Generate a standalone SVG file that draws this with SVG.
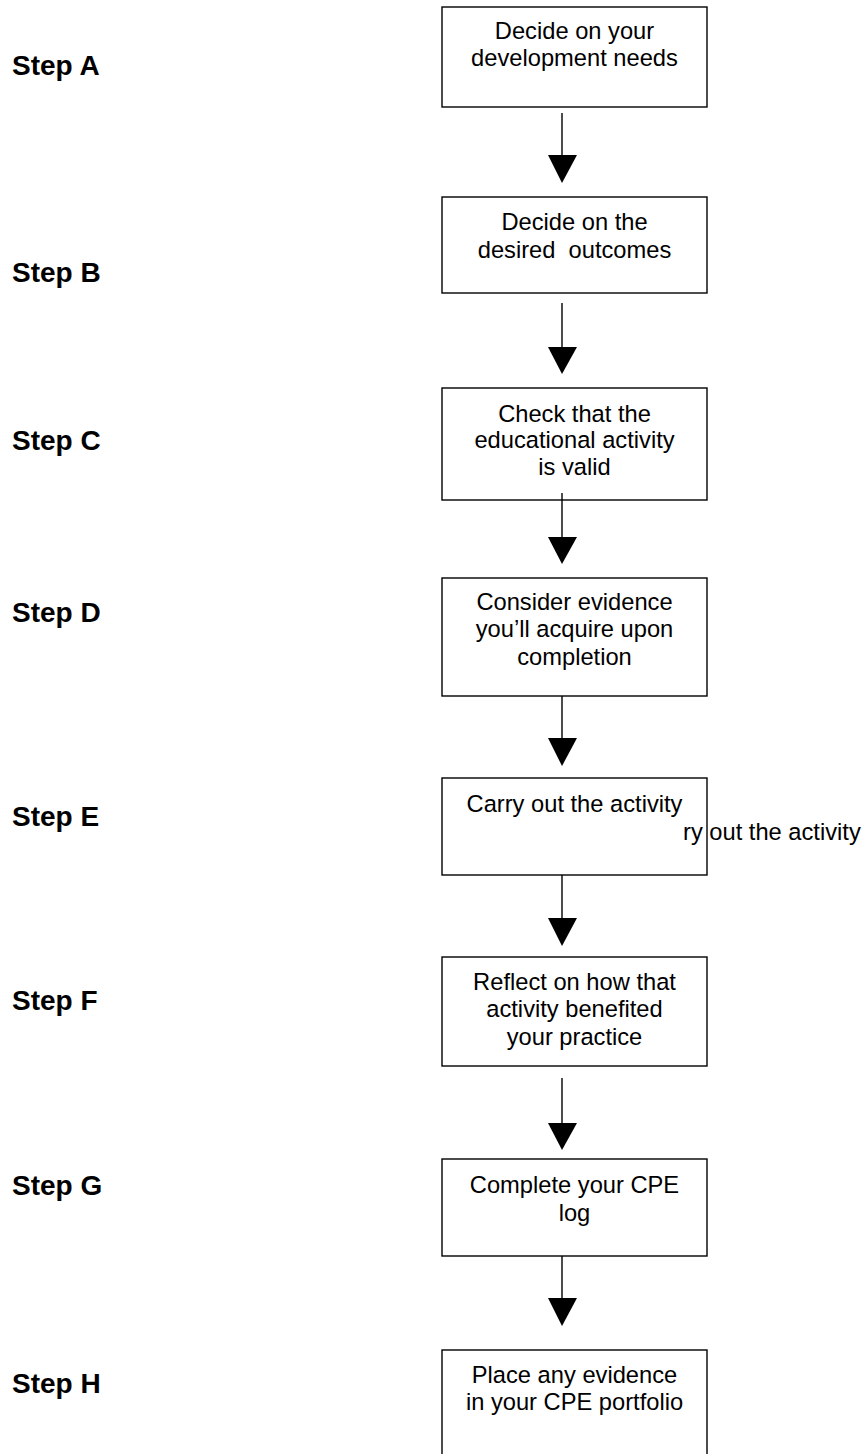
<svg xmlns="http://www.w3.org/2000/svg" width="864" height="1454" viewBox="0 0 864 1454">
<style>
  .box { fill: #ffffff; stroke: #000000; stroke-width: 1.4; }
  .t { font-family: "Liberation Sans", Arial, sans-serif; font-size: 23.7px; fill: #000000; text-anchor: middle; }
  .tl { font-family: "Liberation Sans", Arial, sans-serif; font-size: 23.7px; fill: #000000; }
  .step { font-family: "Liberation Sans", Arial, sans-serif; font-size: 28px; font-weight: bold; fill: #000000; }
  .conn { stroke: #000000; stroke-width: 1.4; fill: none; }
  .head { fill: #000000; }
</style>
<rect width="864" height="1454" fill="#ffffff"/>
<g id="labels">
  <text class="step" x="12" y="75">Step A</text>
  <text class="step" x="12" y="282">Step B</text>
  <text class="step" x="12" y="450">Step C</text>
  <text class="step" x="12" y="622">Step D</text>
  <text class="step" x="12" y="826">Step E</text>
  <text class="step" x="12" y="1010">Step F</text>
  <text class="step" x="12" y="1195">Step G</text>
  <text class="step" x="12" y="1393">Step H</text>
</g>
<g id="stray-text">
  <text class="tl" x="683" y="840">ry out the activity</text>
</g>
<g id="nodeA">
  <rect class="box" x="442" y="7" width="265" height="100"/>
  <text class="t" x="574.5" y="39">Decide on your</text>
  <text class="t" x="574.5" y="66">development needs</text>
</g>
<g id="nodeB">
  <rect class="box" x="442" y="197" width="265" height="96"/>
  <text class="t" x="574.5" y="230">Decide on the</text>
  <text class="t" x="574.5" y="258" xml:space="preserve">desired  outcomes</text>
</g>
<g id="nodeC">
  <rect class="box" x="442" y="388" width="265" height="112"/>
  <text class="t" x="574.5" y="422">Check that the</text>
  <text class="t" x="574.5" y="448">educational activity</text>
  <text class="t" x="574.5" y="475">is valid</text>
</g>
<g id="nodeD">
  <rect class="box" x="442" y="578" width="265" height="118"/>
  <text class="t" x="574.5" y="610">Consider evidence</text>
  <text class="t" x="574.5" y="637">you’ll acquire upon</text>
  <text class="t" x="574.5" y="665">completion</text>
</g>
<g id="nodeE">
  <rect class="box" x="442" y="778" width="265" height="97" fill="none" style="fill:none"/>
  <text class="t" x="574.5" y="812">Carry out the activity</text>
</g>
<g id="nodeF">
  <rect class="box" x="442" y="957" width="265" height="109"/>
  <text class="t" x="574.5" y="990">Reflect on how that</text>
  <text class="t" x="574.5" y="1017">activity benefited</text>
  <text class="t" x="574.5" y="1045">your practice</text>
</g>
<g id="nodeG">
  <rect class="box" x="442" y="1159" width="265" height="97"/>
  <text class="t" x="574.5" y="1193">Complete your CPE</text>
  <text class="t" x="574.5" y="1221">log</text>
</g>
<g id="nodeH">
  <rect class="box" x="442" y="1350" width="265" height="120"/>
  <text class="t" x="574.5" y="1383">Place any evidence</text>
  <text class="t" x="574.5" y="1410">in your CPE portfolio</text>
</g>
<g id="connectors">
  <line class="conn" x1="562" y1="113" x2="562" y2="156"/>
  <polygon class="head" points="548,155 577,155 562,183"/>
  <line class="conn" x1="562" y1="303" x2="562" y2="348"/>
  <polygon class="head" points="548,347 577,347 562,374"/>
  <line class="conn" x1="562" y1="493" x2="562" y2="538"/>
  <polygon class="head" points="548,537 577,537 562,564"/>
  <line class="conn" x1="562" y1="696" x2="562" y2="739"/>
  <polygon class="head" points="548,738 577,738 562,766"/>
  <line class="conn" x1="562" y1="875" x2="562" y2="919"/>
  <polygon class="head" points="548,918 577,918 562,946"/>
  <line class="conn" x1="562" y1="1078" x2="562" y2="1124"/>
  <polygon class="head" points="548,1123 577,1123 562,1150"/>
  <line class="conn" x1="562" y1="1256" x2="562" y2="1299"/>
  <polygon class="head" points="548,1298 577,1298 562,1326"/>
</g>
</svg>
